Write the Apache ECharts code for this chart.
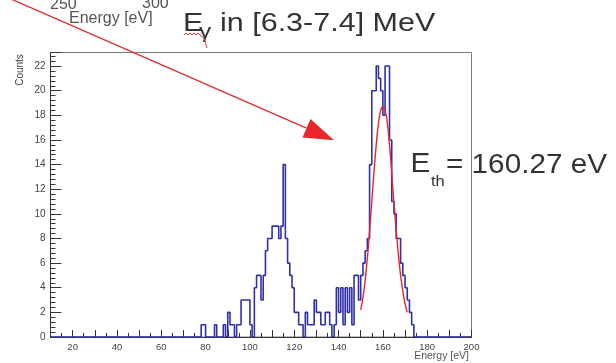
<!DOCTYPE html>
<html><head><meta charset="utf-8">
<script src="https://cdn.jsdelivr.net/npm/echarts@6/dist/echarts.min.js"></script>
<style>html,body{margin:0;padding:0;background:#fff}#c{width:616px;height:363px}</style>
</head><body><div id="c"></div>
<script>
// Histogram range (eV) and bin width
const xMin = 10, xMax = 200, binWidth = 1;
// Bin counts for bins starting at firstBin (all other bins are 0)
const firstBin = 77;
const binCounts = [
  0,1,1,0,0,0,0,1,0,0,      // 77-86
  0,1,0,2,1,1,0,1,1,3,      // 87-96
  3,3,3,1,0,4,5,5,3,5,      // 97-106
  7,8,8,9,9,9,8,9,14,8,     // 107-116
  6,5,4,2,2,1,1,0,2,1,      // 117-126
  1,1,3,2,2,1,1,2,2,1,      // 127-136
  0,1,4,2,4,1,4,2,4,1,      // 137-146
  5,5,3,5,6,7,8,14,20,20,   // 147-156
  22,21,20,18,22,22,16,11,10,8, // 157-166
  8,6,5,4,3,2,1,0           // 167-174
];
// Gaussian fit curve
const fitEnergy = [150,151,152,153,154,155,156,157,158,159,160,161,162,163,164,165,166,167,168,169,170,171];
const fitValues = [2.2,3.2,4.6,6.4,8.6,11.0,13.4,15.6,17.3,18.4,18.7,18.4,17.4,15.6,13.3,10.9,8.7,6.7,5.0,3.7,2.7,2.0];
// Tick labels
const xTickLabels = [20,40,60,80,100,120,140,160,180,200];
const yTickLabels = [0,2,4,6,8,10,12,14,16,18,20,22];

const histData = [];
let last = 0;
for (let e = xMin; e < xMax; e += binWidth) {
  const i = e - firstBin;
  const c = (i >= 0 && i < binCounts.length) ? binCounts[i] : 0;
  histData.push([e, c]);
  last = c;
}
histData.push([xMax, last]);
const fitData = fitEnergy.map((e, i) => [e, fitValues[i]]);

const FF = '"Liberation Sans", Arial, sans-serif';
const chart = echarts.init(document.getElementById('c'), null, {renderer: 'canvas'});
chart.setOption({
  animation: false,
  backgroundColor: '#fff',
  textStyle: {fontFamily: FF},
  grid: {left: 50.5, right: 144.5, top: 52.5, bottom: 26, show: true, borderColor: '#7a7a7a', borderWidth: 1},
  xAxis: {
    type: 'value', min: xMin, max: xMax, interval: 10,
    axisLine: {show: true, onZero: false, lineStyle: {color: '#333', width: 1}},
    axisTick: {show: true, inside: true, length: 7, lineStyle: {color: '#333'}},
    minorTick: {show: true, splitNumber: 2, length: 4, lineStyle: {color: '#333'}},
    splitLine: {show: false}, minorSplitLine: {show: false},
    axisLabel: {formatter: v => xTickLabels.includes(v) ? String(v) : '', fontSize: 9.5, color: '#444', margin: 5, fontFamily: FF, showMaxLabel: true}
  },
  yAxis: {
    type: 'value', min: 0, max: 23.1, interval: 2,
    axisLine: {show: true, lineStyle: {color: '#333', width: 1}},
    axisTick: {show: true, inside: true, length: 11, lineStyle: {color: '#333'}},
    minorTick: {show: true, splitNumber: 5, length: 5, lineStyle: {color: '#333'}},
    splitLine: {show: false}, minorSplitLine: {show: false},
    axisLabel: {formatter: v => yTickLabels.includes(v) ? String(v) : '', fontSize: 10, color: '#444', margin: 5, fontFamily: FF}
  },
  series: [
    {type: 'line', step: 'end', data: histData, showSymbol: false, symbol: 'none',
     lineStyle: {color: '#3030aa', width: 1.6}, z: 2},
    {type: 'line', smooth: 0.5, data: fitData, showSymbol: false, symbol: 'none',
     lineStyle: {color: '#e8262a', width: 1.4}, z: 3}
  ],
  graphic: [
    {type: 'text', x: 50, y: 5, style: {text: '250', font: '16px ' + FF, fill: '#555', verticalAlign: 'middle'}},
    {type: 'text', x: 142, y: 4, style: {text: '300', font: '16px ' + FF, fill: '#555', verticalAlign: 'middle'}},
    {type: 'text', x: 69, y: 19, style: {text: 'Energy [eV]', font: '16px ' + FF, fill: '#555', verticalAlign: 'middle'}},
    {type: 'polyline', shape: {points: [[0,-5.8],[306.5,128.2]]}, style: {stroke: '#e8262a', lineWidth: 1.3, fill: null}},
    {type: 'polygon', shape: {points: [[334,140.2],[302.5,137.4],[310.5,119]]}, style: {fill: '#e8262a'}},
    {type: 'text', x: 183, y: 24, scaleX: 1.22, style: {text: 'E', font: '25px ' + FF, fill: '#333', verticalAlign: 'middle'}},
    {type: 'text', x: 199, y: 32, scaleX: 1.22, style: {text: 'γ', font: '20px ' + FF, fill: '#333', verticalAlign: 'middle'}},
    {type: 'text', x: 220, y: 24, scaleX: 1.22, style: {text: 'in [6.3-7.4] MeV', font: '25px ' + FF, fill: '#333', verticalAlign: 'middle'}},
    {type: 'polyline', shape: {points: [[184,35],[186,33],[188,35],[190,33],[192,35],[194,33],[196,35],[198,33],[200,35],[204,38],[207,48]]}, style: {stroke: '#e03030', lineWidth: 1, fill: null}},
    {type: 'text', x: 410.5, y: 165, scaleX: 1.1, style: {text: 'E', font: '27px ' + FF, fill: '#333', verticalAlign: 'middle'}},
    {type: 'text', x: 431, y: 182, scaleX: 1.1, style: {text: 'th', font: '15px ' + FF, fill: '#333', verticalAlign: 'middle'}},
    {type: 'text', x: 446, y: 166, scaleX: 1.1, style: {text: '= 160.27 eV', font: '27px ' + FF, fill: '#333', verticalAlign: 'middle'}},
    {type: 'text', x: 20, y: 70, rotation: Math.PI / 2, style: {text: 'Counts', font: '10px ' + FF, fill: '#444', align: 'center', verticalAlign: 'middle'}},
    {type: 'text', x: 469, y: 356, style: {text: 'Energy [eV]', font: '10.5px ' + FF, fill: '#555', align: 'right', verticalAlign: 'middle'}}
  ]
});
</script></body></html>
